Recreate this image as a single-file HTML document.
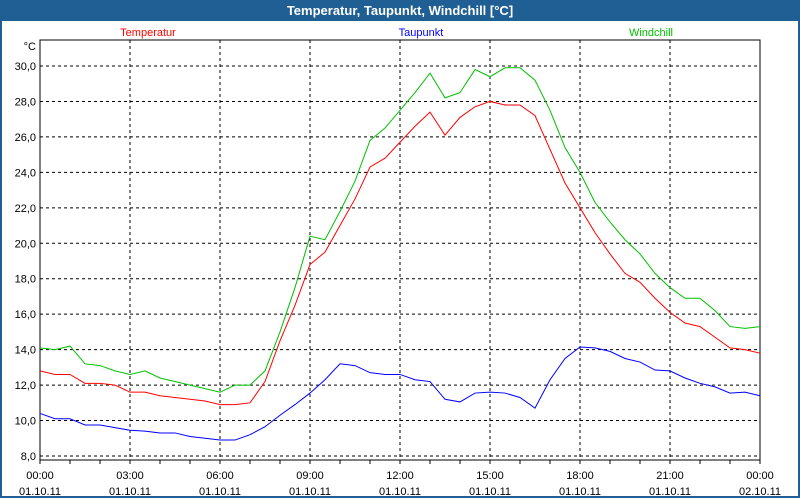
<!DOCTYPE html>
<html><head><meta charset="utf-8"><style>
body{margin:0;width:800px;height:500px;overflow:hidden;background:#fff;font-family:"Liberation Sans",sans-serif}
#wrap{position:absolute;left:0;top:0;width:796px;height:496px;border:2px solid #1f5f94;border-top:none;background:#fff}
#title{position:absolute;left:0;top:0;width:800px;height:21px;background:#1f5f94;color:#fff;font-weight:bold;font-size:13px;text-align:center;line-height:21px}
svg{position:absolute;left:0;top:0}
</style></head><body>
<div id="wrap"></div>
<div id="title">Temperatur, Taupunkt, Windchill [°C]</div>
<svg id="c" width="800" height="500"></svg>
<script>
const temperatur=[12.8,12.6,12.6,12.1,12.1,12.0,11.6,11.6,11.4,11.3,11.2,11.1,10.9,10.9,11.0,12.2,14.5,16.5,18.8,19.5,21.0,22.5,24.3,24.8,25.7,26.6,27.4,26.1,27.1,27.7,28.0,27.8,27.8,27.2,25.3,23.4,22.0,20.6,19.4,18.3,17.8,16.9,16.1,15.5,15.3,14.7,14.1,14.0,13.8];
const taupunkt=[10.4,10.1,10.1,9.75,9.75,9.6,9.45,9.4,9.3,9.3,9.1,9.0,8.9,8.9,9.2,9.65,10.3,10.9,11.55,12.3,13.2,13.1,12.7,12.6,12.6,12.3,12.2,11.2,11.05,11.55,11.6,11.55,11.3,10.7,12.3,13.5,14.15,14.1,13.9,13.5,13.3,12.85,12.8,12.4,12.1,11.9,11.55,11.6,11.4];
const windchill=[14.1,14.0,14.2,13.2,13.1,12.8,12.6,12.8,12.4,12.2,12.0,11.8,11.6,12.0,12.0,12.8,15.0,17.5,20.4,20.2,21.8,23.5,25.8,26.5,27.5,28.5,29.6,28.2,28.5,29.8,29.4,29.9,29.9,29.2,27.5,25.4,24.0,22.3,21.2,20.2,19.4,18.3,17.5,16.9,16.9,16.2,15.3,15.2,15.3];
const yTicks=[8,10,12,14,16,18,20,22,24,26,28,30];
const xTicks=["00:00","03:00","06:00","09:00","12:00","15:00","18:00","21:00","00:00"];
const xDates=["01.10.11","01.10.11","01.10.11","01.10.11","01.10.11","01.10.11","01.10.11","01.10.11","02.10.11"];
const L=40,R=760,T=40,B=460;
const X=h=>L+h*30;
const Y=v=>66+(30-v)*17.727;
const svg=document.getElementById('c');const NS='http://www.w3.org/2000/svg';
function mk(t,a){const e=document.createElementNS(NS,t);for(const k in a)e.setAttribute(k,a[k]);svg.appendChild(e);return e;}
yTicks.forEach(v=>{
 const g=mk('line',{x1:L,x2:R,y1:Y(v),y2:Y(v),stroke:'#000','stroke-dasharray':'3,3'});
 
 
 const t=mk('text',{x:36,y:Y(v)+4,'text-anchor':'end','font-size':11});
 t.textContent=v.toFixed(1).replace('.',',');
 
 
});
for(let h=0;h<=24;h++){const tk=mk('line',{x1:X(h),x2:X(h),y1:B,y2:B+4,stroke:'#000'});}
xTicks.forEach((s,i)=>{
 const x=X(i*3);
 if(i>0&&i<8){const g=mk('line',{x1:x,x2:x,y1:T,y2:B,stroke:'#000','stroke-dasharray':'3,3'});}
 const t=mk('text',{x:x,y:479,'text-anchor':'middle','font-size':11});t.textContent=s;
 
 
 const d=mk('text',{x:x,y:495,'text-anchor':'middle','font-size':11});d.textContent=xDates[i];
 
 
});
const fr=mk('rect',{x:L,y:T,width:R-L,height:B-T,fill:'none',stroke:'#000'});


const u=mk('text',{x:36,y:50,'text-anchor':'end','font-size':11});u.textContent='°C';


function line(arr,col,name){const p=mk('polyline',{points:arr.map((v,i)=>X(i*0.5)+','+Y(v)).join(' '),fill:'none',stroke:col,'stroke-width':1});
 
 }
line(taupunkt,'#0000ff','taupunkt-line');
line(temperatur,'#ff0000','temperatur-line');
line(windchill,'#00c000','windchill-line');
[['Temperatur','#ff0000',148],['Taupunkt','#0000ff',421],['Windchill','#00c000',651]].forEach(([s,c,x])=>{
 const t=mk('text',{x:x,y:36,'text-anchor':'middle','font-size':11,fill:c});t.textContent=s;
 
 
});
</script>
</body></html>
